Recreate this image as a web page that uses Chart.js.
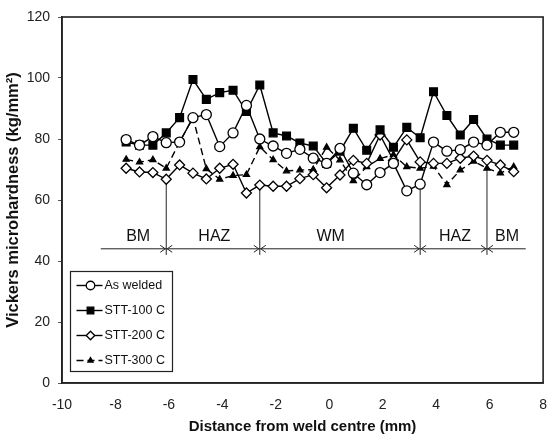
<!DOCTYPE html>
<html>
<head>
<meta charset="utf-8">
<script src="https://cdn.jsdelivr.net/npm/chart.js@4.4.1/dist/chart.umd.min.js"></script>
<style>
  html, body { margin: 0; padding: 0; background: #fff; }
  #wrap { width: 553px; height: 440px; position: relative; }
</style>
</head>
<body>
<div id="wrap"><canvas id="chart"></canvas></div>
<script>
// distance from weld centre (mm)
const xs = [-7.6, -7.1, -6.6, -6.1, -5.6, -5.1, -4.6, -4.1, -3.6, -3.1,
            -2.6, -2.1, -1.6, -1.1, -0.6, -0.1, 0.4, 0.9, 1.4, 1.9,
            2.4, 2.9, 3.4, 3.9, 4.4, 4.9, 5.4, 5.9, 6.4, 6.9];

const asWelded = [79.8, 78, 80.8, 78.8, 79, 87, 88, 77.5, 82, 91,
                  80, 77.7, 75.3, 76.6, 73.7, 72, 76.9, 68.8, 65, 69,
                  72, 63, 65.2, 79, 76, 76.5, 79, 78, 82.2, 82.2];
const stt100 = [79, 78, 78, 82, 87, 99.5, 93, 95.2, 96, 89,
                97.7, 82, 81, 78.7, 77.7, 72, 76, 83.5, 76.3, 83,
                77.3, 83.8, 80.4, 95.5, 87.7, 81.3, 86.4, 80, 78, 78];
const stt200 = [70.4, 69.2, 69, 66.8, 71.5, 68.8, 66.9, 70.4, 71.7, 62.3,
                64.9, 64.5, 64.5, 67, 68.3, 64, 68.2, 73, 72, 81.3,
                73, 79.7, 72.5, 72, 72, 73.7, 74.4, 73, 71.5, 69.3];
const stt300 = [73.3, 72.4, 73.2, 70.4, 79, 87, 70.2, 66.8, 68, 68.3,
                77.4, 73.2, 69.5, 69.8, 70, 77.3, 73.1, 66.3, 70.9, 73.6,
                74.8, 70.9, 70.4, 71, 65, 69.8, 72.7, 70.4, 68.8, 70.9];

const xTicks = [-10, 8, 2];   // min, max, step
const yTicks = [0, 120, 20];

// weld zones: boundary positions (mm) and labels
const zoneBounds = [-6.1, -2.6, 3.4, 5.9];
const zoneTops = [66.8, 64.9, 65.2, 70.4];
const zoneNames = ['BM', 'HAZ', 'WM', 'HAZ', 'BM'];
const zoneLabelX = [-7.15, -4.3, 0.05, 4.7, 6.65];
const zoneLineY = 44;
const zoneLineEnds = [-8.55, 7.35];

const toPts = ys => ys.map((y, i) => ({x: xs[i], y: y}));

const FONT = '"Liberation Sans", Arial, sans-serif';

const series = [
  {label: 'As welded', data: toPts(asWelded), pointStyle: 'circle', pointRadius: 5,
   backgroundColor: '#fff', dash: []},
  {label: 'STT-100 C', data: toPts(stt100), pointStyle: 'rect', pointRadius: 5.5,
   backgroundColor: '#000', dash: []},
  {label: 'STT-200 C', data: toPts(stt200), pointStyle: 'rectRot', pointRadius: 5,
   backgroundColor: '#fff', dash: []},
  {label: 'STT-300 C', data: toPts(stt300), pointStyle: 'triangle', pointRadius: 3.5,
   backgroundColor: '#000', dash: [7, 4]}
];

const datasets = series.map(s => ({
  label: s.label,
  data: s.data,
  borderColor: '#000',
  borderWidth: 1.4,
  borderDash: s.dash,
  pointStyle: s.pointStyle,
  pointRadius: s.pointRadius,
  pointBackgroundColor: s.backgroundColor,
  pointBorderColor: '#000',
  pointBorderWidth: 1.3,
  tension: 0,
  fill: false
}));

// frame around plot area, zone marks and the boxed legend
const extras = {
  id: 'extras',
  beforeDatasetsDraw(chart) {
    const ctx = chart.ctx, xs_ = chart.scales.x, ys_ = chart.scales.y;
    ctx.save();
    ctx.strokeStyle = '#222';
    ctx.lineWidth = 1;
    const ly = ys_.getPixelForValue(zoneLineY);
    ctx.beginPath();
    ctx.moveTo(xs_.getPixelForValue(zoneLineEnds[0]), ly);
    ctx.lineTo(xs_.getPixelForValue(zoneLineEnds[1]), ly);
    ctx.stroke();
    zoneBounds.forEach((b, i) => {
      const px = xs_.getPixelForValue(b);
      ctx.beginPath();
      ctx.moveTo(px, ys_.getPixelForValue(zoneLineY - 2));
      ctx.lineTo(px, ys_.getPixelForValue(zoneTops[i]));
      ctx.stroke();
      // arrow heads on both sides pointing at the boundary
      ctx.beginPath();
      ctx.moveTo(px - 6, ly - 3.5); ctx.lineTo(px - 1, ly); ctx.lineTo(px - 6, ly + 3.5);
      ctx.moveTo(px + 6, ly - 3.5); ctx.lineTo(px + 1, ly); ctx.lineTo(px + 6, ly + 3.5);
      ctx.stroke();
    });
    ctx.fillStyle = '#111';
    ctx.font = '16px ' + FONT;
    ctx.textAlign = 'center';
    ctx.textBaseline = 'middle';
    zoneNames.forEach((n, i) => {
      ctx.fillText(n, xs_.getPixelForValue(zoneLabelX[i]), ys_.getPixelForValue(48));
    });
    ctx.restore();
  },
  afterDraw(chart) {
    const ctx = chart.ctx, a = chart.chartArea;
    ctx.save();
    ctx.strokeStyle = '#222';
    ctx.lineWidth = 1.6;
    ctx.strokeRect(a.left, a.top, a.right - a.left, a.bottom - a.top);

    // legend box
    const bx = a.left + 8.5, by = 271.5, bw = 102, bh = 100;
    ctx.fillStyle = '#fff';
    ctx.fillRect(bx, by, bw, bh);
    ctx.lineWidth = 1.2;
    ctx.strokeRect(bx, by, bw, bh);
    ctx.font = '12.5px ' + FONT;
    ctx.textAlign = 'left';
    ctx.textBaseline = 'middle';
    chart.data.datasets.forEach((d, i) => {
      const y = by + 14 + i * 25;
      ctx.strokeStyle = '#000';
      ctx.lineWidth = 1.4;
      ctx.setLineDash(d.borderDash);
      ctx.beginPath();
      ctx.moveTo(bx + 6, y); ctx.lineTo(bx + 32, y);
      ctx.stroke();
      ctx.setLineDash([]);
      ctx.fillStyle = d.pointBackgroundColor;
      ctx.lineWidth = 1.3;
      Chart.helpers.drawPoint(ctx, {pointStyle: d.pointStyle, radius: d.pointRadius * 0.85,
        rotation: 0, borderWidth: 1.3}, bx + 20, y);
      ctx.fillStyle = '#111';
      ctx.fillText(d.label, bx + 34, y);
    });
    ctx.restore();
  }
};

new Chart(document.getElementById('chart'), {
  type: 'line',
  data: {datasets: datasets},
  options: {
    responsive: true,
    maintainAspectRatio: false,
    animation: false,
    events: [],
    layout: {padding: {top: 17, right: 6, left: 0, bottom: 0}},
    plugins: {legend: {display: false}, tooltip: {enabled: false}},
    scales: {
      x: {
        type: 'linear',
        min: xTicks[0], max: xTicks[1],
        ticks: {stepSize: xTicks[2], color: '#222', font: {size: 14, family: FONT}, padding: 6,
                maxRotation: 0},
        grid: {display: false},
        border: {display: true, color: '#222', width: 1.6},
        title: {display: true, text: 'Distance from weld centre (mm)', color: '#111',
                font: {size: 15, weight: 'bold', family: FONT}, padding: {top: 6}},
        afterFit(scale) { scale.height = 57; }
      },
      y: {
        min: yTicks[0], max: yTicks[1],
        ticks: {stepSize: yTicks[2], color: '#222', font: {size: 14, family: FONT}, padding: 8},
        grid: {drawOnChartArea: false, tickLength: 4, color: '#555'},
        border: {display: true, color: '#222', width: 1.6},
        title: {display: true, text: 'Vickers microhardness (kg/mm\u00b2)', color: '#111',
                font: {size: 16.5, weight: 'bold', family: FONT}, padding: {top: 4, bottom: 0}},
        afterFit(scale) { scale.width = 62; }
      }
    }
  },
  plugins: [extras]
});
</script>
</body>
</html>
